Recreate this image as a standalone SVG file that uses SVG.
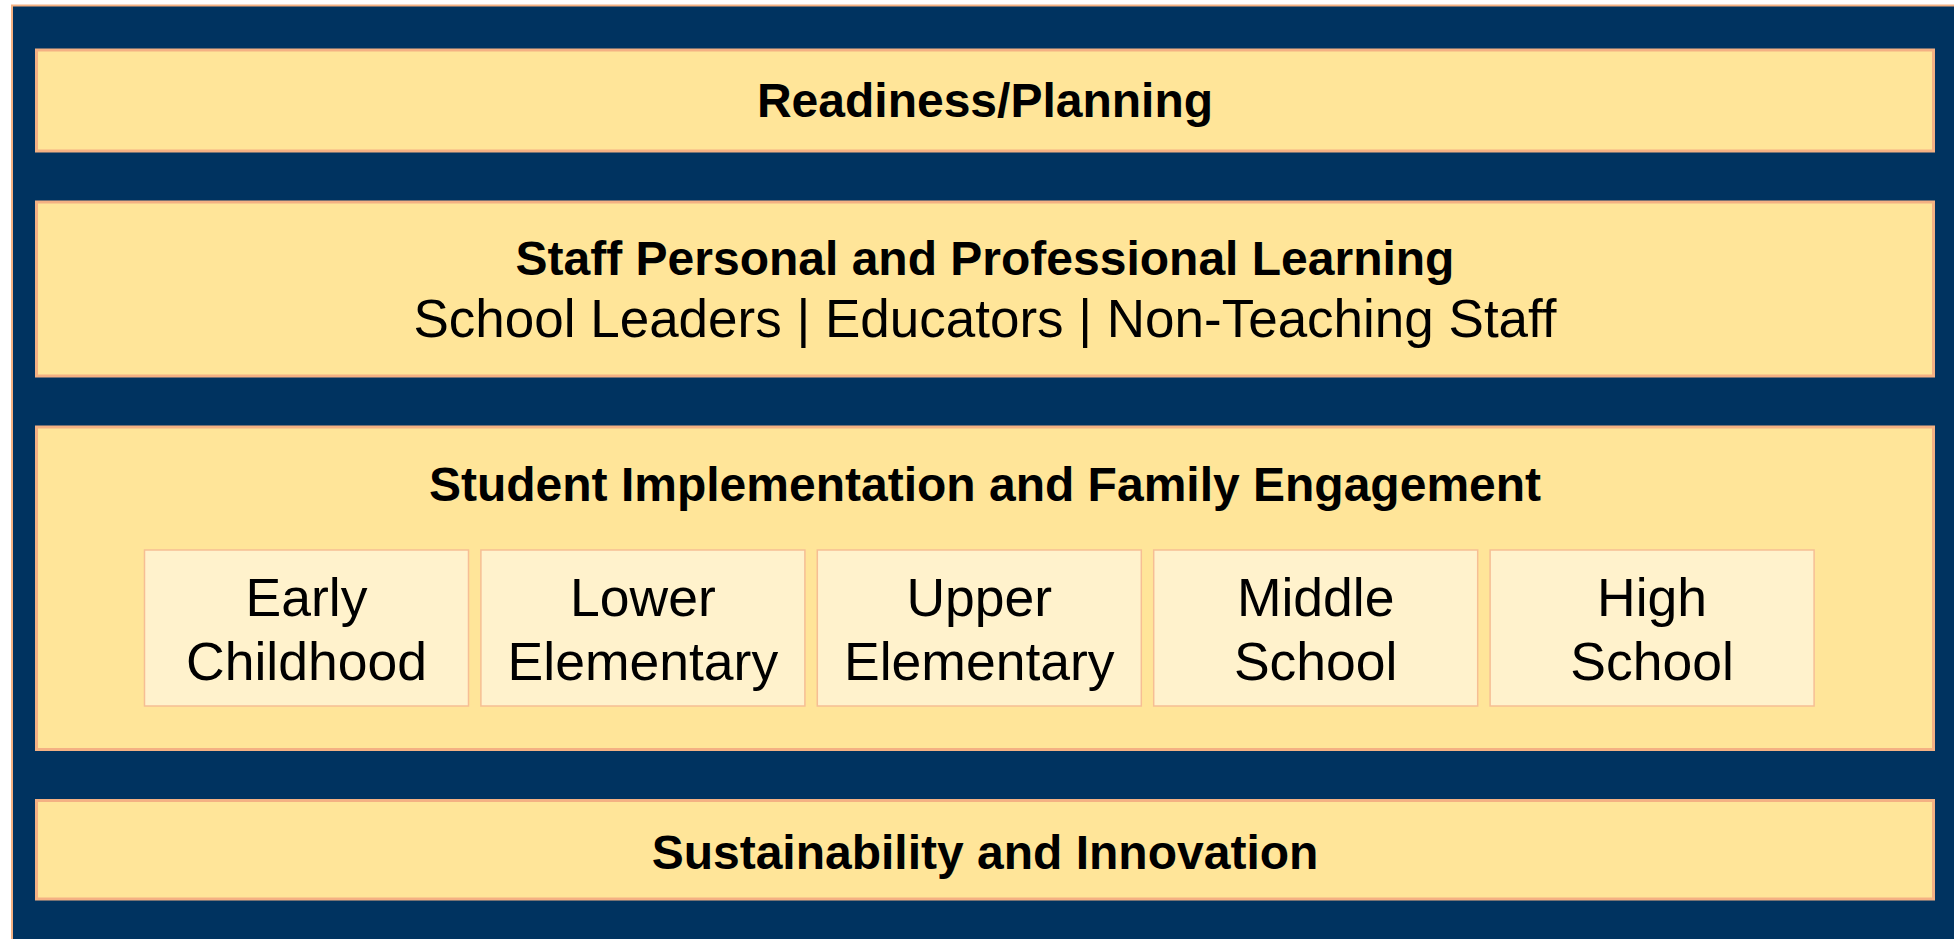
<svg xmlns="http://www.w3.org/2000/svg" width="1954" height="939" viewBox="0 0 1954 939">
  <style>
    .band { fill: #FFE599; stroke: #F4B183; stroke-width: 3; }
    .cell { fill: #FFF2CC; stroke: #F6BE94; stroke-width: 1.5; }
    .t { font-family: "Liberation Sans", Arial, sans-serif; fill: #000000; text-anchor: middle; }
    .b { font-weight: bold; font-size: 48px; }
    .r { font-size: 53px; }
    .c { font-size: 53.5px; }
  </style>
  <rect width="1954" height="939" fill="#FFFFFF"/>
  <g id="frame">
    <rect x="12" y="5.5" width="1960" height="950" fill="#003360" stroke="#F4B183" stroke-width="2"/>
  </g>
  <g id="connectors"></g>
  <g id="readiness">
    <rect class="band" x="36.5" y="50" width="1897" height="101"/>
    <text class="t b" x="985" y="117">Readiness/Planning</text>
  </g>
  <g id="staff">
    <rect class="band" x="36.5" y="202" width="1897" height="174"/>
    <text class="t b" x="985" y="274.5">Staff Personal and Professional Learning</text>
    <text class="t r" x="985" y="337">School Leaders | Educators | Non-Teaching Staff</text>
  </g>
  <g id="student">
    <rect class="band" x="36.5" y="427" width="1897" height="322.5"/>
    <text class="t b" x="985" y="501">Student Implementation and Family Engagement</text>
  </g>
  <g id="early-childhood">
    <rect class="cell" x="144.5" y="550" width="324" height="156"/>
    <text class="t c" x="306.5" y="616">Early</text>
    <text class="t c" x="306.5" y="680">Childhood</text>
  </g>
  <g id="lower-elementary">
    <rect class="cell" x="480.9" y="550" width="324" height="156"/>
    <text class="t c" x="642.9" y="616">Lower</text>
    <text class="t c" x="642.9" y="680">Elementary</text>
  </g>
  <g id="upper-elementary">
    <rect class="cell" x="817.3" y="550" width="324" height="156"/>
    <text class="t c" x="979.3" y="616">Upper</text>
    <text class="t c" x="979.3" y="680">Elementary</text>
  </g>
  <g id="middle-school">
    <rect class="cell" x="1153.7" y="550" width="324" height="156"/>
    <text class="t c" x="1315.7" y="616">Middle</text>
    <text class="t c" x="1315.7" y="680">School</text>
  </g>
  <g id="high-school">
    <rect class="cell" x="1490.1" y="550" width="324" height="156"/>
    <text class="t c" x="1652.1" y="616">High</text>
    <text class="t c" x="1652.1" y="680">School</text>
  </g>
  <g id="sustainability">
    <rect class="band" x="36.5" y="800.5" width="1897" height="98.5"/>
    <text class="t b" x="985" y="869">Sustainability and Innovation</text>
  </g>
</svg>
